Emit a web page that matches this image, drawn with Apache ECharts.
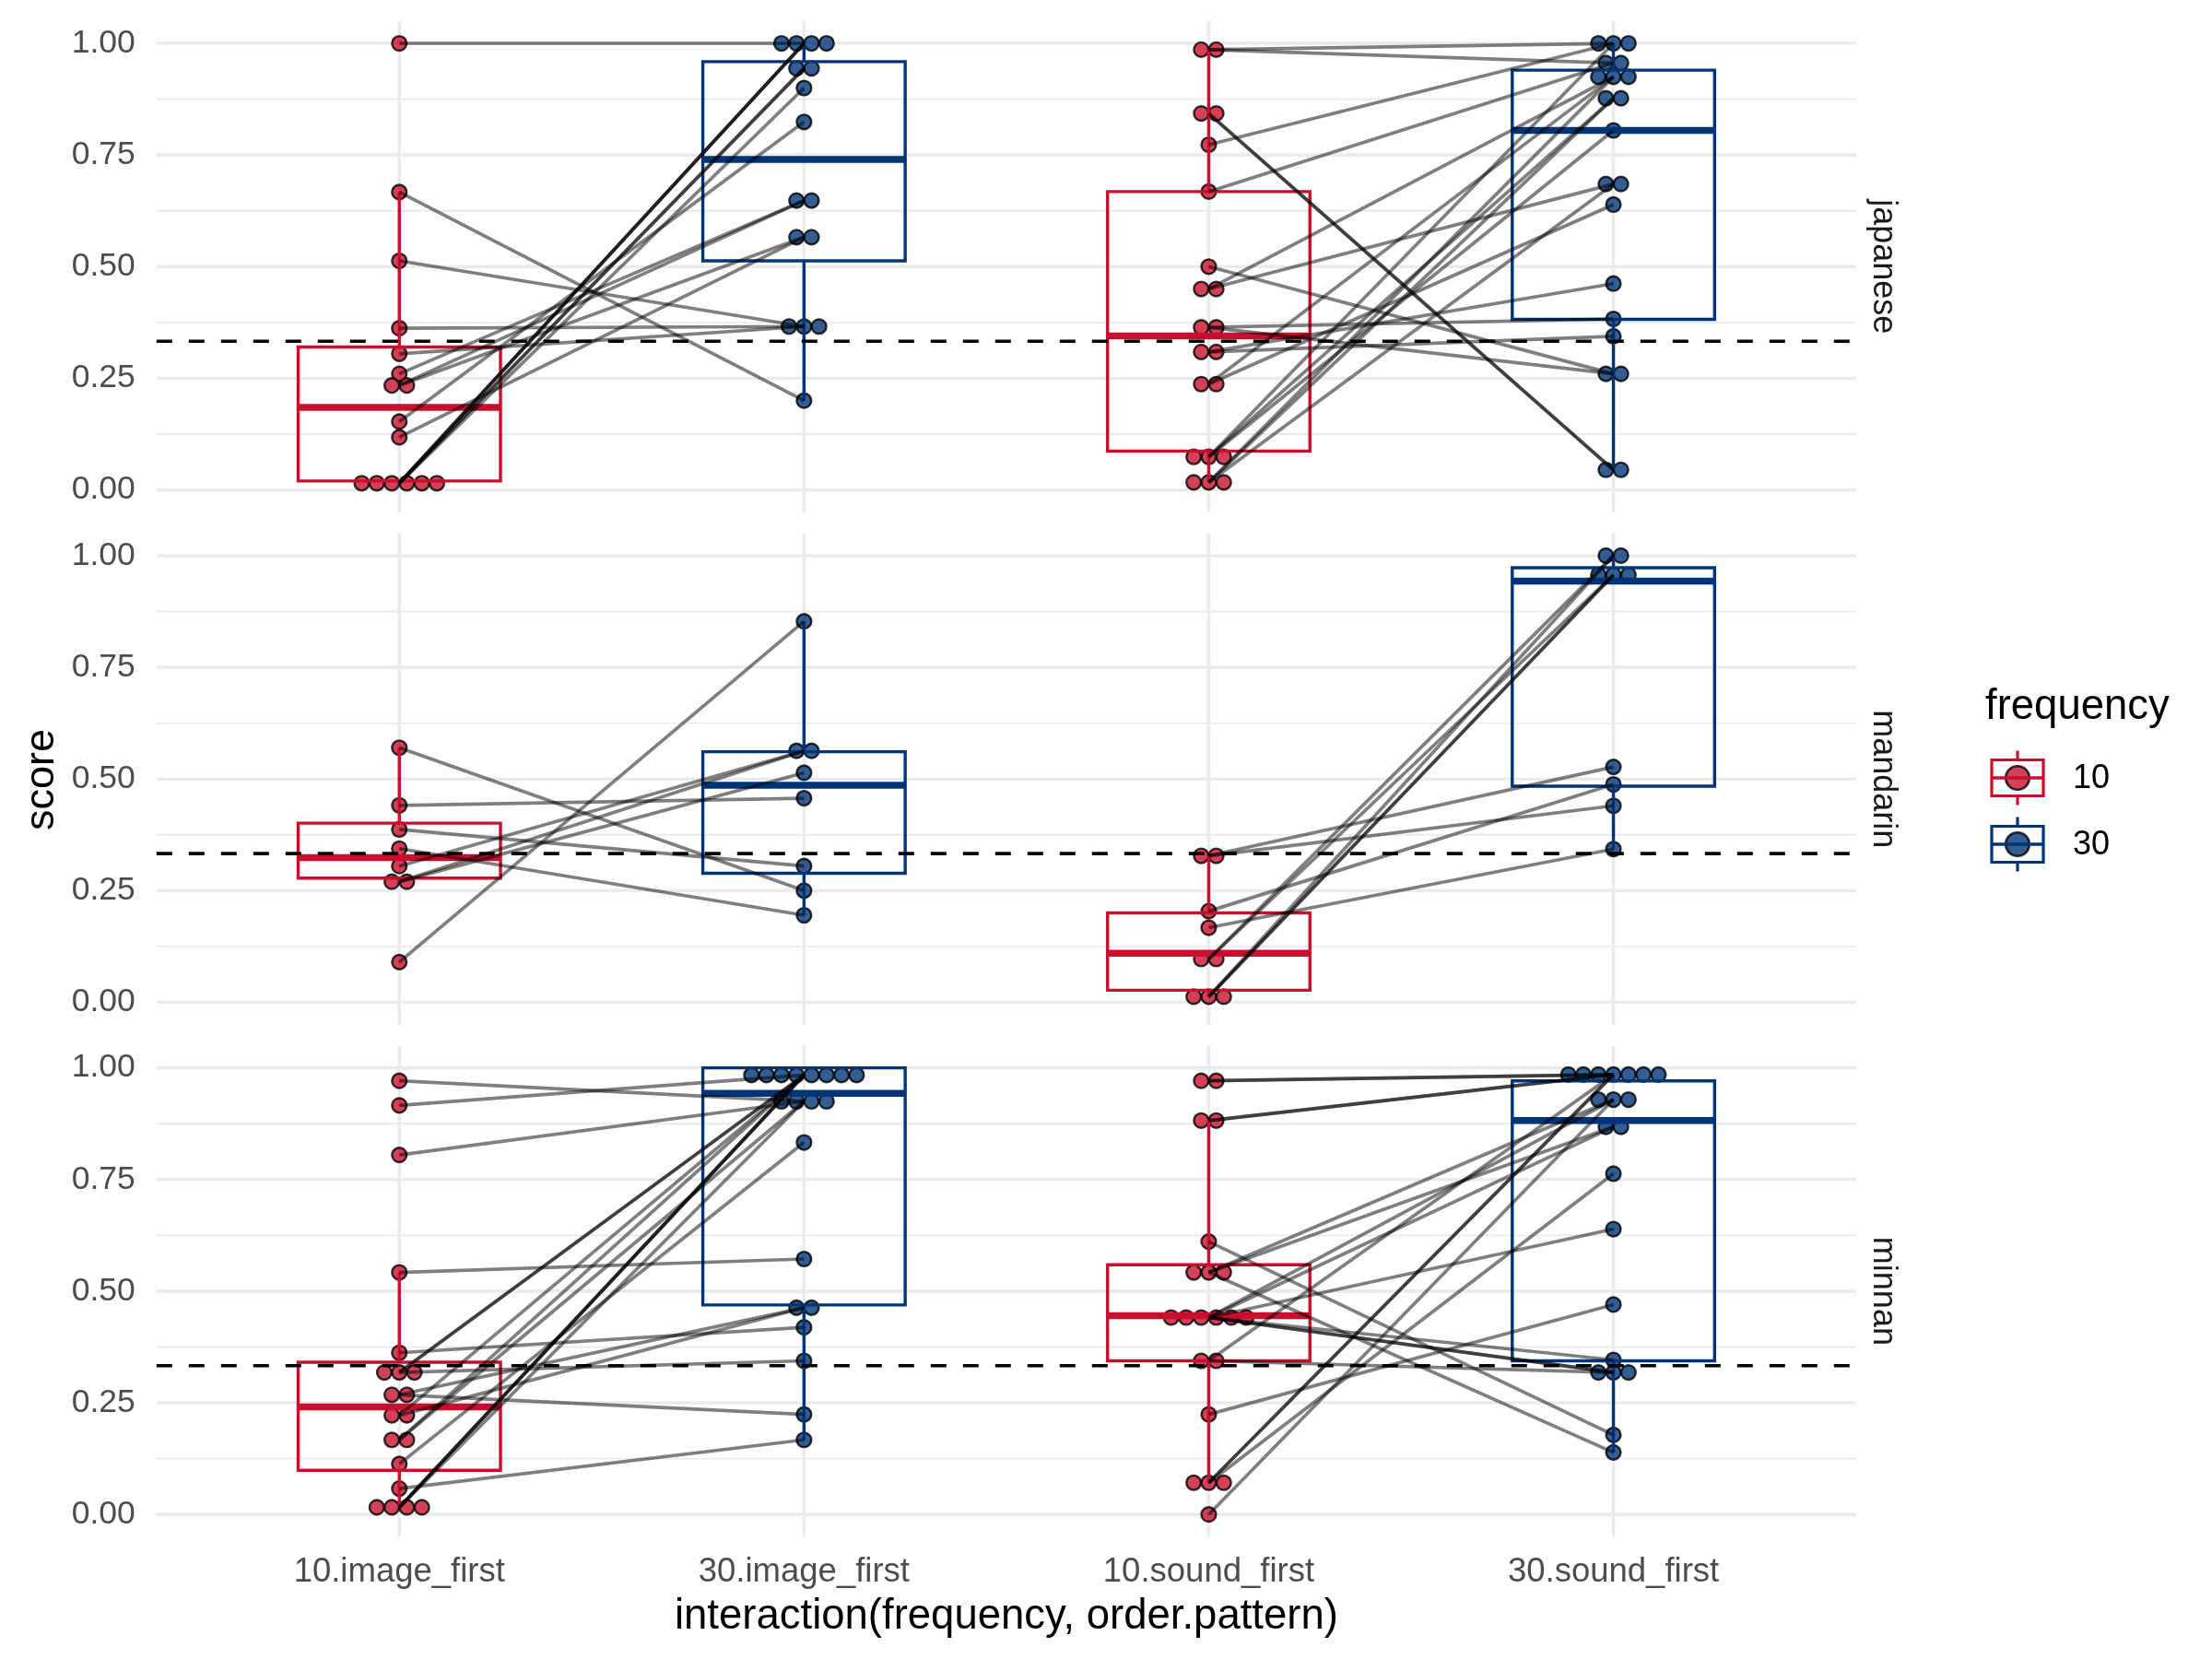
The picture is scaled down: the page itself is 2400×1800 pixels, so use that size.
<!DOCTYPE html>
<html>
<head>
<meta charset="utf-8">
<script src="https://cdn.jsdelivr.net/npm/echarts@6/dist/echarts.min.js"></script>
<style>html,body{margin:0;padding:0;background:#fff}#c{width:2400px;height:1800px}</style>
</head>
<body>
<div id="c"></div>
<script>
// ---------------- DATA ----------------
const categories = ['10.image_first', '30.image_first', '10.sound_first', '30.sound_first'];
const languages = ['japanese', 'mandarin', 'minnan'];
const yMajorTicks = [0, 0.25, 0.5, 0.75, 1];
const yMinorTicks = [0.125, 0.375, 0.625, 0.875];
const chanceLevel = 0.333;
const legendLevels = ['10', '30'];

// paired scores per participant: [frequency 10, frequency 30]
const japaneseImageFirst = [
  [1.00, 1.00], [0.667, 0.20], [0.513, 0.366], [0.362, 0.366], [0.305, 0.366],
  [0.26, 0.648], [0.234, 0.648], [0.234, 0.566], [0.153, 0.824], [0.118, 0.566],
  [0.015, 1.00], [0.015, 1.00], [0.015, 1.00], [0.015, 0.944], [0.015, 0.944], [0.015, 0.90]
];
const japaneseSoundFirst = [
  [0.986, 1.00], [0.986, 0.956], [0.843, 0.045], [0.843, 0.045], [0.773, 1.00],
  [0.668, 0.956], [0.50, 0.26], [0.45, 0.685], [0.45, 0.925], [0.364, 0.26],
  [0.364, 0.383], [0.309, 0.344], [0.309, 0.462], [0.237, 0.639], [0.237, 0.925],
  [0.074, 1.00], [0.074, 0.877], [0.074, 0.805], [0.017, 0.925], [0.017, 0.877], [0.017, 0.685]
];
const mandarinImageFirst = [
  [0.570, 0.25], [0.441, 0.457], [0.387, 0.305], [0.344, 0.195],
  [0.305, 0.563], [0.27, 0.563], [0.27, 0.514], [0.09, 0.853]
];
const mandarinSoundFirst = [
  [0.328, 0.527], [0.328, 0.44], [0.204, 0.488], [0.167, 0.343], [0.097, 1.00],
  [0.097, 0.957], [0.0125, 1.00], [0.0125, 0.957], [0.0125, 0.957]
];
const minnanImageFirst = [
  [0.971, 0.925], [0.916, 0.984], [0.805, 0.925], [0.542, 0.572], [0.362, 0.419],
  [0.318, 0.344], [0.318, 0.984], [0.318, 0.984], [0.268, 0.224], [0.268, 0.463],
  [0.222, 0.463], [0.222, 0.984], [0.167, 0.984], [0.167, 0.925], [0.113, 0.833],
  [0.058, 0.167], [0.016, 0.984], [0.016, 0.984], [0.016, 0.984], [0.016, 0.925]
];
const minnanSoundFirst = [
  [0.971, 0.985], [0.971, 0.985], [0.882, 0.985], [0.882, 0.985], [0.611, 0.178],
  [0.542, 0.929], [0.542, 0.868], [0.542, 0.139], [0.441, 0.929], [0.441, 0.868],
  [0.441, 0.639], [0.441, 0.318], [0.441, 0.318], [0.441, 0.346], [0.344, 0.318],
  [0.344, 0.985], [0.224, 0.47], [0.071, 0.985], [0.071, 0.985], [0.071, 0.763], [0.0, 0.929]
];

// box statistics per category: [min, q1, median, q3, max]
const japaneseBoxes = [
  [0.015, 0.02, 0.185, 0.32, 0.667],
  [0.20, 0.513, 0.74, 0.959, 1.00],
  [0.017, 0.087, 0.345, 0.668, 0.986],
  [0.045, 0.382, 0.805, 0.94, 1.00]
];
const mandarinBoxes = [
  [0.27, 0.278, 0.324, 0.401, 0.570],
  [0.195, 0.289, 0.486, 0.561, 0.853],
  [0.0125, 0.027, 0.11, 0.20, 0.328],
  [0.343, 0.484, 0.943, 0.973, 1.00]
];
const minnanBoxes = [
  [0.016, 0.099, 0.241, 0.341, 0.542],
  [0.167, 0.469, 0.943, 1.00, 1.00],
  [0.071, 0.344, 0.445, 0.559, 0.882],
  [0.139, 0.344, 0.882, 0.971, 0.985]
];

// ---------------- LAYOUT / STYLE ----------------
const RED = '#C8102E', BLUE = '#003478';
const RED_FILL = 'rgba(200,16,46,0.8)', BLUE_FILL = 'rgba(0,52,120,0.8)';
const FONT = 'Liberation Sans';
const GRID_LEFT = 169.8, GRID_WIDTH = 1844.2, PANEL_H = 533;
const PANEL_TOPS = [22.8, 578.7, 1134.4];
const BOX_HALF = 0.25;
const DOT_R = 7.9, DOT_STEP = 16.3;

const pairsByPanel = [
  [japaneseImageFirst, japaneseSoundFirst],
  [mandarinImageFirst, mandarinSoundFirst],
  [minnanImageFirst, minnanSoundFirst]
];
const boxesByPanel = [japaneseBoxes, mandarinBoxes, minnanBoxes];

function stackDots(cat, values) {
  const counts = new Map();
  values.forEach(v => counts.set(v, (counts.get(v) || 0) + 1));
  const out = [];
  counts.forEach((n, v) => { for (let i = 0; i < n; i++) out.push([cat, v, i, n]); });
  return out;
}

function gridRender(params, api) {
  const cs = params.coordSys;
  const kind = api.value(0), v = api.value(1);
  if (kind === 2) {
    const x = api.coord([v, 0.5])[0];
    return { type: 'line', shape: { x1: x, y1: cs.y, x2: x, y2: cs.y + cs.height }, style: { stroke: '#EBEBEB', lineWidth: 3.6 } };
  }
  const y = api.coord([1, v])[1];
  return { type: 'line', shape: { x1: cs.x, y1: y, x2: cs.x + cs.width, y2: y }, style: { stroke: '#EBEBEB', lineWidth: kind === 0 ? 3.6 : 1.9 } };
}

function dotRender(params, api) {
  const cat = api.value(0);
  const p = api.coord([cat, api.value(1)]);
  const off = (api.value(2) - (api.value(3) - 1) / 2) * DOT_STEP;
  const isTen = Math.round(cat) % 2 === 1;
  return { type: 'circle', shape: { cx: p[0] + off, cy: p[1], r: DOT_R },
    style: { fill: isTen ? RED_FILL : BLUE_FILL, stroke: 'rgba(0,0,0,0.8)', lineWidth: 2.4 } };
}

function boxRender(params, api) {
  const x = api.value(0);
  const mn = api.value(1), q1 = api.value(2), md = api.value(3), q3 = api.value(4), mx = api.value(5);
  const color = Math.round(x) % 2 === 1 ? RED : BLUE;
  const L = api.coord([x - BOX_HALF, md])[0], R = api.coord([x + BOX_HALF, md])[0];
  const cx = api.coord([x, md])[0];
  const yMn = api.coord([x, mn])[1], yQ1 = api.coord([x, q1])[1], yMd = api.coord([x, md])[1];
  const yQ3 = api.coord([x, q3])[1], yMx = api.coord([x, mx])[1];
  return { type: 'group', children: [
    { type: 'line', shape: { x1: cx, y1: yQ3, x2: cx, y2: yMx }, style: { stroke: color, lineWidth: 3.4 } },
    { type: 'line', shape: { x1: cx, y1: yQ1, x2: cx, y2: yMn }, style: { stroke: color, lineWidth: 3.4 } },
    { type: 'rect', shape: { x: L, y: yQ3, width: R - L, height: yQ1 - yQ3 }, style: { fill: 'none', stroke: color, lineWidth: 3.4 } },
    { type: 'line', shape: { x1: L, y1: yMd, x2: R, y2: yMd }, style: { stroke: color, lineWidth: 7.5 } }
  ] };
}

function chanceRender(params, api) {
  const cs = params.coordSys;
  const y = api.coord([1, api.value(0)])[1];
  return { type: 'line', shape: { x1: cs.x, y1: y, x2: cs.x + cs.width, y2: y },
    style: { stroke: '#000', lineWidth: 3.6, lineDash: [17, 18] } };
}

const grids = [], xAxes = [], yAxes = [], series = [];
languages.forEach((lang, k) => {
  grids.push({ left: GRID_LEFT, width: GRID_WIDTH, top: PANEL_TOPS[k], height: PANEL_H });
  xAxes.push({
    type: 'value', gridIndex: k, min: 0.4, max: 4.6,
    axisLine: { show: false }, axisTick: { show: false }, splitLine: { show: false },
    axisLabel: {
      show: k === languages.length - 1, customValues: [1, 2, 3, 4],
      formatter: v => categories[Math.round(v) - 1] || '',
      fontFamily: FONT, fontSize: 36.5, color: '#4D4D4D', margin: 20
    }
  });
  yAxes.push({
    type: 'value', gridIndex: k, min: -0.05, max: 1.05,
    axisLine: { show: false }, axisTick: { show: false }, splitLine: { show: false },
    axisLabel: {
      customValues: yMajorTicks, formatter: v => v.toFixed(2),
      fontFamily: FONT, fontSize: 35.5, color: '#4D4D4D', margin: 23
    }
  });

  const gridData = yMajorTicks.map(v => [0, v])
    .concat(yMinorTicks.map(v => [1, v]))
    .concat(categories.map((c, i) => [2, i + 1]));
  series.push({ type: 'custom', xAxisIndex: k, yAxisIndex: k, z: 0, silent: true, renderItem: gridRender, data: gridData });

  let dots = [], lines = [];
  pairsByPanel[k].forEach((pairs, o) => {
    const c10 = 1 + 2 * o, c30 = 2 + 2 * o;
    dots = dots.concat(stackDots(c10, pairs.map(p => p[0])), stackDots(c30, pairs.map(p => p[1])));
    pairs.forEach(p => lines.push({ coords: [[c10, p[0]], [c30, p[1]]] }));
  });
  series.push({ type: 'custom', xAxisIndex: k, yAxisIndex: k, z: 2, silent: true, renderItem: dotRender, data: dots });
  series.push({ type: 'custom', xAxisIndex: k, yAxisIndex: k, z: 3, silent: true, renderItem: boxRender,
    data: boxesByPanel[k].map((b, i) => [i + 1].concat(b)) });
  series.push({ type: 'lines', coordinateSystem: 'cartesian2d', xAxisIndex: k, yAxisIndex: k, z: 4, silent: true,
    lineStyle: { color: '#000', opacity: 0.5, width: 3.7 }, data: lines });
  series.push({ type: 'custom', xAxisIndex: k, yAxisIndex: k, z: 5, silent: true, renderItem: chanceRender, data: [[chanceLevel]] });
});

// graphic: titles, strip labels, legend
const graphic = [];
languages.forEach((lang, k) => {
  graphic.push({ type: 'text', x: 2043, y: PANEL_TOPS[k] + PANEL_H / 2, rotation: -Math.PI / 2,
    style: { text: lang, font: '36px "Liberation Sans"', fill: '#1A1A1A', textAlign: 'center', textVerticalAlign: 'middle' } });
});
graphic.push({ type: 'text', x: 46, y: 846, rotation: Math.PI / 2,
  style: { text: 'score', font: '45px "Liberation Sans"', fill: '#000', textAlign: 'center', textVerticalAlign: 'middle' } });
graphic.push({ type: 'text', x: GRID_LEFT + GRID_WIDTH / 2, y: 1754,
  style: { text: 'interaction(frequency, order.pattern)', font: '45.5px "Liberation Sans"', fill: '#000', textAlign: 'center', textVerticalAlign: 'middle' } });
graphic.push({ type: 'text', x: 2154, y: 767,
  style: { text: 'frequency', font: '45.5px "Liberation Sans"', fill: '#000', textAlign: 'left', textVerticalAlign: 'middle' } });
legendLevels.forEach((lev, i) => {
  const cy = 844 + i * 72, cx = 2189;
  const col = i === 0 ? RED : BLUE, fill = i === 0 ? RED_FILL : BLUE_FILL;
  graphic.push({ type: 'circle', shape: { cx: cx, cy: cy, r: 12.8 }, style: { fill: fill, stroke: 'rgba(0,0,0,0.8)', lineWidth: 2.6 } });
  graphic.push({ type: 'rect', shape: { x: 2161, y: cy - 19.5, width: 56, height: 39 }, style: { fill: 'none', stroke: col, lineWidth: 3.2 } });
  graphic.push({ type: 'line', shape: { x1: 2161, y1: cy, x2: 2217, y2: cy }, style: { stroke: col, lineWidth: 3.6 } });
  graphic.push({ type: 'line', shape: { x1: cx, y1: cy - 29.5, x2: cx, y2: cy - 19.5 }, style: { stroke: col, lineWidth: 3.2 } });
  graphic.push({ type: 'line', shape: { x1: cx, y1: cy + 19.5, x2: cx, y2: cy + 29.5 }, style: { stroke: col, lineWidth: 3.2 } });
  graphic.push({ type: 'text', x: 2249, y: cy + 1,
    style: { text: lev, font: '36px "Liberation Sans"', fill: '#000', textAlign: 'left', textVerticalAlign: 'middle' } });
});

const chart = echarts.init(document.getElementById('c'), null, { renderer: 'canvas', width: 2400, height: 1800 });
chart.setOption({
  animation: false,
  backgroundColor: '#fff',
  textStyle: { fontFamily: FONT },
  grid: grids, xAxis: xAxes, yAxis: yAxes, series: series, graphic: graphic
});
</script>
</body>
</html>
